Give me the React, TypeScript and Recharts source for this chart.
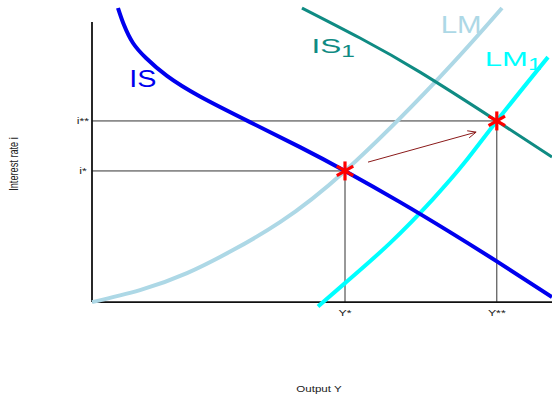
import {
  ComposedChart,
  Line,
  Scatter,
  XAxis,
  YAxis,
  ReferenceLine,
  ReferenceDot,
} from 'recharts'

// curve readings (output on x, interest rate on y, both 0..100)
const isX = [5.65, 6.96, 8.91, 11.74, 16.3, 23.48, 34.35, 45.22, 55.0, 66.96, 77.83, 88.26, 100]
const isY = [100, 94.2, 88.1, 83.0, 76.9, 69.9, 61.2, 52.7, 44.6, 34.0, 23.8, 13.6, 1.7]

const is1X = [45.65, 58.26, 71.3, 88.0, 100]
const is1Y = [100, 89.8, 78.2, 61.6, 49.3]

const lmX = [0, 10.43, 20.65, 30.65, 40.87, 55.0, 75.0, 89.13]
const lmY = [0, 4.08, 9.86, 17.69, 27.2, 44.6, 75.5, 100]

const lm1X = [49.13, 55.0, 64.78, 74.13, 81.09, 88.0, 99.13]
const lm1Y = [-1.53, 6.46, 20.07, 35.03, 47.6, 61.6, 83.3]

const eqX = [55, 88]
const eqY = [44.6, 61.6]
const xTickLabels = ['Y*', 'Y**']
const yTickLabels = ['i*', 'i**']

const arrowX = [60.0, 83.5]
const arrowY = [47.6, 57.8]

const yAxisTop = 95.2

const pts = (xs: number[], ys: number[]) => xs.map((x, i) => ({ x, y: ys[i] }))

const isData = pts(isX, isY)
const is1Data = pts(is1X, is1Y)
const lmData = pts(lmX, lmY)
const lm1Data = pts(lm1X, lm1Y)
const eqData = pts(eqX, eqY)
const arrowData = pts(arrowX, arrowY)

const FONT = '"Liberation Sans", Arial, Helvetica, sans-serif'
const SX = 1.3

const Asterisk = (p: any) => {
  const r = 9.5
  return (
    <g>
      {[90, 30, 150].map((a) => {
        const rad = (a * Math.PI) / 180
        const dx = r * Math.cos(rad)
        const dy = r * Math.sin(rad)
        return (
          <line
            key={a}
            x1={p.cx - dx}
            y1={p.cy + dy}
            x2={p.cx + dx}
            y2={p.cy - dy}
            stroke='#ff0000'
            strokeWidth={3.2}
          />
        )
      })}
    </g>
  )
}

const ArrowHead = (p: any) => {
  if (p.index !== 1) return <g key={`ah-${p.index}`} />
  const p0 = p.points ? p.points[0] : null
  const ang = p0
    ? Math.atan2(p.cy - p0.y, p.cx - p0.x)
    : Math.atan2(-(arrowY[1] - arrowY[0]) * 2.94, (arrowX[1] - arrowX[0]) * 4.6)
  const L = 9
  const s = 0.42
  const x1 = p.cx - L * Math.cos(ang - s)
  const y1 = p.cy - L * Math.sin(ang - s)
  const x2 = p.cx - L * Math.cos(ang + s)
  const y2 = p.cy - L * Math.sin(ang + s)
  return (
    <path
      key={`ah-${p.index}`}
      d={`M${x1},${y1}L${p.cx},${p.cy}L${x2},${y2}`}
      fill='none'
      stroke='#8b1a1a'
      strokeWidth={1}
    />
  )
}

const curveLabel =
  (text: string, sub: string, color: string, size: number, sx: number) => (p: any) =>
    (
      <text
        transform={`translate(${p.cx},${p.cy}) scale(${sx},1)`}
        fill={color}
        fontSize={size}
        fontFamily={FONT}
      >
        {text}
        {sub && (
          <tspan fontSize={size * 0.78} dy={4}>
            {sub}
          </tspan>
        )}
      </text>
    )

const XTick = (p: any) => {
  const i = eqX.indexOf(p.payload.value)
  return (
    <text
      transform={`translate(${p.x},${p.y}) scale(${SX},1)`}
      textAnchor='middle'
      dy='0.71em'
      fontSize={9.5}
      fontFamily={FONT}
      fill='#222'
    >
      {xTickLabels[i]}
    </text>
  )
}

const YTick = (p: any) => {
  const i = eqY.indexOf(p.payload.value)
  return (
    <text
      transform={`translate(${p.x},${p.y}) scale(${SX},1)`}
      textAnchor='middle'
      dy='0.355em'
      fontSize={9.5}
      fontFamily={FONT}
      fill='#222'
    >
      {yTickLabels[i]}
    </text>
  )
}

const curve = {
  type: 'natural' as const,
  dataKey: 'y',
  dot: false,
  activeDot: false,
  isAnimationActive: false,
}

export default function App() {
  return (
    <div style={{ position: 'absolute', left: 0, top: 0, background: '#fff' }}>
      <ComposedChart width={552} height={394} margin={{ top: 8, right: 0, bottom: 0, left: 0 }}>
        <XAxis
          type='number'
          dataKey='x'
          domain={[0, 100]}
          ticks={eqX}
          interval={0}
          height={86}
          axisLine={false}
          tickLine={false}
          tickSize={0}
          tickMargin={1}
          tick={<XTick />}
          label={() => (
            <text
              transform='translate(319,392) scale(1.3,1)'
              textAnchor='middle'
              fontSize={8.9}
              fontFamily={FONT}
              fill='#222'
            >
              Output Y
            </text>
          )}
        />
        <YAxis
          type='number'
          dataKey='y'
          domain={[-2, 100]}
          ticks={eqY}
          interval={0}
          width={92}
          axisLine={false}
          tickLine={false}
          tickSize={0}
          tickMargin={9}
          tick={<YTick />}
          label={() => (
            <text
              transform='translate(13,164) scale(1.4,1) rotate(-90)'
              textAnchor='middle'
              dy='0.355em'
              fontSize={9.2}
              fontFamily={FONT}
              fill='#222'
            >
              Interest rate i
            </text>
          )}
        />

        {/* guide lines */}
        <ReferenceLine segment={[{ x: 0, y: eqY[1] }, { x: eqX[1], y: eqY[1] }]} stroke='#333' strokeWidth={1} />
        <ReferenceLine segment={[{ x: 0, y: eqY[0] }, { x: eqX[0], y: eqY[0] }]} stroke='#333' strokeWidth={1} />
        <ReferenceLine segment={[{ x: eqX[0], y: 0 }, { x: eqX[0], y: eqY[0] }]} stroke='#333' strokeWidth={1} />
        <ReferenceLine segment={[{ x: eqX[1], y: 0 }, { x: eqX[1], y: eqY[1] }]} stroke='#333' strokeWidth={1} />

        {/* axes */}
        <ReferenceLine segment={[{ x: 0, y: 0 }, { x: 0, y: yAxisTop }]} stroke='#111' strokeWidth={1.8} />
        <ReferenceLine segment={[{ x: 0, y: 0 }, { x: 100, y: 0 }]} stroke='#111' strokeWidth={1.8} />

        <Line data={lmData} {...curve} stroke='#add8e6' strokeWidth={4} />
        <Line data={lm1Data} {...curve} stroke='#00ffff' strokeWidth={4} />
        <Line data={is1Data} {...curve} stroke='#0f8b83' strokeWidth={3} />
        <Line data={isData} {...curve} stroke='#0000ee' strokeWidth={4} />

        <Line data={arrowData} dataKey='y' type='linear' stroke='#8b1a1a' strokeWidth={1} dot={ArrowHead} activeDot={false} isAnimationActive={false} />

        <Scatter data={eqData} dataKey='y' shape={Asterisk} isAnimationActive={false} />

        <ReferenceDot x={8.09} y={73.1} r={0} shape={curveLabel('IS', '', '#0000ee', 23, 1.25)} />
        <ReferenceDot x={47.7} y={84.7} r={0} shape={curveLabel('IS', '1', '#0f8b83', 21, 1.5)} />
        <ReferenceDot x={75.8} y={91.5} r={0} shape={curveLabel('LM', '', '#add8e6', 23, 1.28)} />
        <ReferenceDot x={85.4} y={80.4} r={0} shape={curveLabel('LM', '1', '#00ffff', 20, 1.55)} />
      </ComposedChart>
    </div>
  )
}
